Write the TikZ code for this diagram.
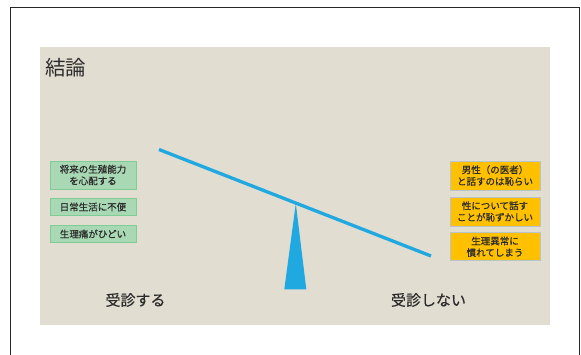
\documentclass[tikz,border=0pt]{standalone}
\usepackage{fontspec}
\setmainfont{Noto Sans CJK JP}
\newfontfamily\boxfont{Noto Sans CJK JP}[FakeBold=0.7]
\newfontfamily\labelfont{Noto Sans CJK JP}[FakeBold=0.4]
\definecolor{panel}{HTML}{E2DDD1}
\definecolor{beam}{HTML}{1FA9E0}
\definecolor{gfill}{HTML}{A8D8B4}
\definecolor{gline}{HTML}{80CC95}
\definecolor{ofill}{HTML}{FFC000}
\definecolor{oline}{HTML}{B8C4CC}
\definecolor{txt}{HTML}{2B2B2B}
\tikzset{
  gbox/.style={draw=gline, line width=0.9pt, fill=gfill, minimum width=86pt, inner sep=0pt, align=center, font=\boxfont\fontsize{9.5}{11.6}\selectfont, text=txt},
  obox/.style={draw=oline, line width=0.6pt, fill=ofill, minimum width=90pt, inner sep=0pt, align=center, font=\boxfont\fontsize{9.5}{11.6}\selectfont, text=txt},
  biglabel/.style={font=\labelfont\fontsize{15}{18}\selectfont, text=txt, inner sep=0pt},
}
\begin{document}
\begin{tikzpicture}[x=1pt,y=-1pt]
\useasboundingbox (0,0) rectangle (581,355);
\fill[white] (0,0) rectangle (581,355);
\draw[line width=1.3pt, black!85] (10.5,370) -- (10.5,7.5) -- (579.7,7.5) -- (579.7,370);
\fill[panel] (40,47) rectangle (550,325);
\node[anchor=west, font=\fontsize{20.5}{24}\selectfont, text=txt, inner sep=0pt] (title) at (45,68) {結論};
% green boxes
\node[gbox, minimum height=28pt] (g1) at (93,175) {将来の生殖能力\\を心配する};
\node[gbox, minimum height=16.5pt] (g2) at (93,207) {日常生活に不便};
\node[gbox, minimum height=16.5pt] (g3) at (93,234) {生理痛がひどい};
% orange boxes
\node[obox, minimum height=29pt] (o1) at (495,175.5) {男性（の医者）\\と話すのは恥らい};
\node[obox, minimum height=29pt] (o2) at (495,211.5) {性について話す\\ことが恥ずかしい};
\node[obox, minimum height=28pt] (o3) at (495,246.8) {生理異常に\\慣れてしまう};
% seesaw
\coordinate (apex) at (295.8,203.5);
\coordinate (bl) at (284.3,289.3);
\coordinate (br) at (306.3,289.3);
\fill[beam] (apex) -- (br) -- (bl) -- cycle;
\coordinate (beamL) at (159,149.5);
\coordinate (beamR) at (431,256);
\draw[beam, line width=3.3pt] (beamL) -- (beamR);
% labels
\node[biglabel] (go) at (135.5,300) {受診する};
\node[biglabel] (nogo) at (428.5,300) {受診しない};
\end{tikzpicture}
\end{document}
